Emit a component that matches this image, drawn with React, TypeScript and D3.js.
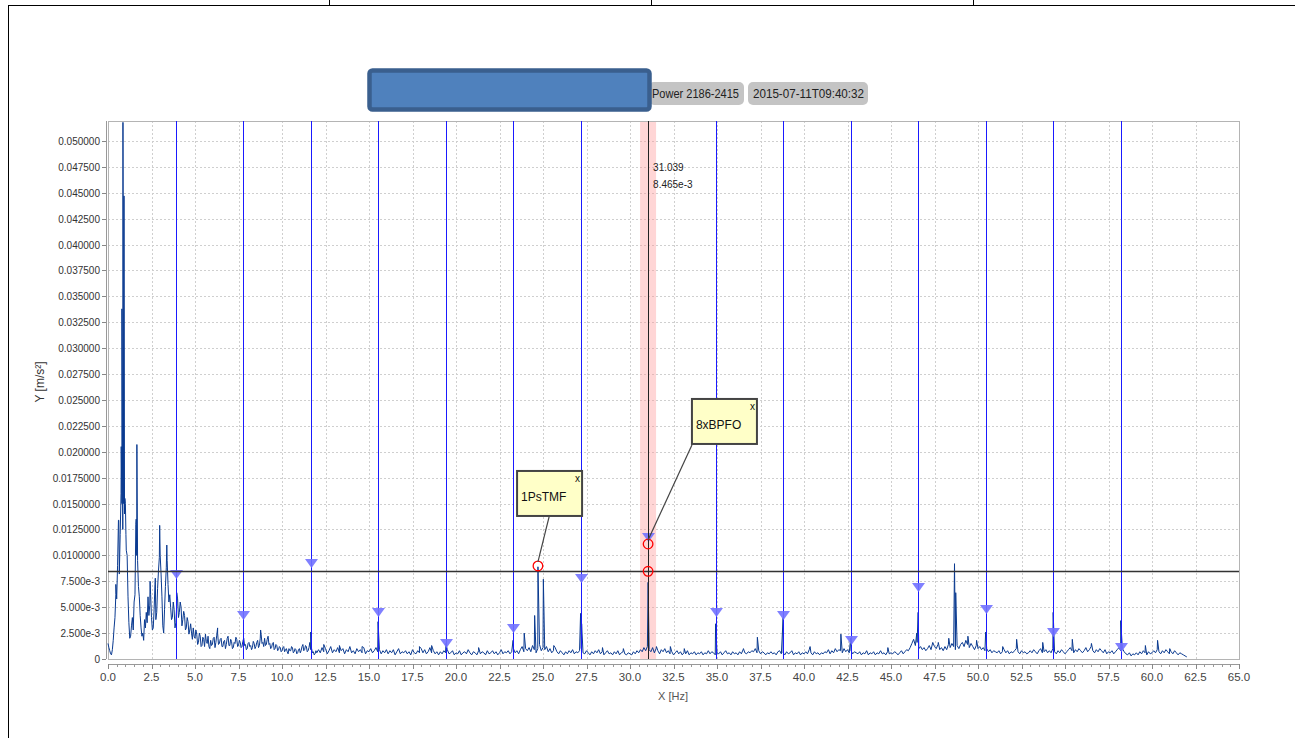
import * as d3 from 'd3'

const width = 1295
const height = 738

// plot frame in page pixels
const plotLeft = 108
const plotRight = 1239
const plotTop = 121
const plotBottom = 659

const xTickLabels = [
  '0.0', '2.5', '5.0', '7.5', '10.0', '12.5', '15.0', '17.5', '20.0', '22.5', '25.0', '27.5', '30.0',
  '32.5', '35.0', '37.5', '40.0', '42.5', '45.0', '47.5', '50.0', '52.5', '55.0', '57.5', '60.0', '62.5', '65.0',
]
const yTickLabels = [
  '0', '2.500e-3', '5.000e-3', '7.500e-3', '0.0100000', '0.0125000', '0.0150000', '0.0175000',
  '0.020000', '0.022500', '0.025000', '0.027500', '0.030000', '0.032500', '0.035000', '0.037500',
  '0.040000', '0.042500', '0.045000', '0.047500', '0.050000',
]

// spectrum 0..12 Hz, 0.05 Hz step
const lowStart = 0
const lowStep = 0.05
const lowBand = [
  0.0015, 0.0011, 0.0008, 0.0005, 0.0004, 0.0009, 0.0018, 0.0030, 0.0040, 0.0062,
  0.0058, 0.0090, 0.0134, 0.0082, 0.0120, 0.0160, 0.0150, 0.0125, 0.0150, 0.0140,
  0.0150, 0.0105, 0.0100, 0.0060, 0.0035, 0.0020, 0.0022, 0.0032, 0.0040, 0.0028,
  0.0055, 0.0062, 0.0130, 0.0100, 0.0095, 0.0070, 0.0060, 0.0042, 0.0030, 0.0022,
  0.0025, 0.0018, 0.0038, 0.0030, 0.0045, 0.0035, 0.0060, 0.0042, 0.0052, 0.0062,
  0.0040, 0.0028, 0.0030, 0.0048, 0.0072, 0.0038, 0.0045, 0.0068, 0.0085, 0.0098,
  0.0100, 0.0082, 0.0060, 0.0032, 0.0025, 0.0048, 0.0070, 0.0088, 0.0095, 0.0072,
  0.0055, 0.0062, 0.0050, 0.0038, 0.0040, 0.0055, 0.0048, 0.0030, 0.0035, 0.0052,
  0.0058, 0.0040, 0.0045, 0.0055, 0.0050, 0.0032, 0.0038, 0.0046, 0.0042, 0.0028,
  0.0030, 0.0040, 0.0036, 0.0024, 0.0028, 0.0034, 0.0025, 0.0019, 0.0030, 0.0022,
  0.0020, 0.0028, 0.0024, 0.0014, 0.0016, 0.0025, 0.0022, 0.0012, 0.0013, 0.0021,
  0.0019, 0.0012, 0.0024, 0.0017, 0.0015, 0.0022, 0.0012, 0.0010, 0.0018, 0.0013,
  0.0014, 0.0020, 0.0021, 0.0011, 0.0016, 0.0023, 0.0025, 0.0014, 0.0015, 0.0019,
  0.0020, 0.0012, 0.0012, 0.0017, 0.0018, 0.0010, 0.0014, 0.0020, 0.0022, 0.0013,
  0.0013, 0.0019, 0.0017, 0.0010, 0.0011, 0.0016, 0.0015, 0.0021, 0.0019, 0.0012,
  0.0013, 0.0018, 0.0016, 0.0011, 0.0012, 0.0017, 0.0020, 0.0013, 0.0014, 0.0009,
  0.0010, 0.0015, 0.0016, 0.0012, 0.0013, 0.0009, 0.0011, 0.0017, 0.0015, 0.0010,
  0.0012, 0.0016, 0.0018, 0.0011, 0.0013, 0.0020, 0.0024, 0.0015, 0.0016, 0.0012,
  0.0020, 0.0013, 0.0014, 0.0019, 0.0022, 0.0014, 0.0015, 0.0010, 0.0011, 0.0015,
  0.0016, 0.0009, 0.0010, 0.0014, 0.0013, 0.0008, 0.0009, 0.0012, 0.0011, 0.0007,
  0.0008, 0.0011, 0.0012, 0.0007, 0.0009, 0.0010, 0.0007, 0.0005, 0.0010, 0.0008,
  0.0008, 0.0012, 0.0011, 0.0006, 0.0007, 0.0010, 0.0009, 0.0005, 0.0006, 0.0009,
  0.0010, 0.0006, 0.0008, 0.0012, 0.0014, 0.0008, 0.0009, 0.0013, 0.0012, 0.0007,
  0.0008, 0.0011, 0.0016, 0.0009, 0.0010, 0.0006, 0.0007, 0.0004, 0.0005, 0.0008,
  0.0006,
]

// spectrum 12.1..62 Hz, 0.1 Hz step
const highStart = 12.1
const highStep = 0.1
const highBand = [
  0.0009, 0.0006, 0.0011, 0.0007, 0.0010, 0.0005, 0.0008, 0.0012, 0.0006, 0.0009,
  0.0007, 0.0011, 0.0006, 0.0008, 0.0010, 0.0005, 0.0009, 0.0007, 0.0012, 0.0006,
  0.0008, 0.0005, 0.0010, 0.0007, 0.0009, 0.0006, 0.0011, 0.0005, 0.0008, 0.0007,
  0.0010, 0.0006, 0.0008, 0.0011, 0.0007, 0.0009, 0.0005, 0.0008, 0.0006, 0.0009,
  0.0005, 0.0008, 0.0006, 0.0009, 0.0004, 0.0007, 0.0010, 0.0005, 0.0007, 0.0006,
  0.0008, 0.0005, 0.0007, 0.0004, 0.0009, 0.0006, 0.0005, 0.0008, 0.0006, 0.0010,
  0.0006, 0.0009, 0.0005, 0.0007, 0.0011, 0.0006, 0.0008, 0.0005, 0.0007, 0.0004,
  0.0007, 0.0005, 0.0008, 0.0006, 0.0009, 0.0005, 0.0006, 0.0008, 0.0004, 0.0006,
  0.0005, 0.0008, 0.0004, 0.0006, 0.0007, 0.0005, 0.0009, 0.0006, 0.0004, 0.0007,
  0.0006, 0.0004, 0.0008, 0.0005, 0.0007, 0.0006, 0.0004, 0.0008, 0.0005, 0.0006,
  0.0008, 0.0005, 0.0007, 0.0004, 0.0006, 0.0009, 0.0005, 0.0007, 0.0006, 0.0008,
  0.0005, 0.0007, 0.0010, 0.0006, 0.0008, 0.0005, 0.0009, 0.0012, 0.0007, 0.0010,
  0.0008, 0.0011, 0.0007, 0.0013, 0.0009, 0.0006, 0.0010, 0.0014, 0.0008, 0.0011,
  0.0009, 0.0012, 0.0007, 0.0010, 0.0006, 0.0008, 0.0011, 0.0007, 0.0005, 0.0008,
  0.0006, 0.0004, 0.0007, 0.0005, 0.0008, 0.0006, 0.0009, 0.0005, 0.0007, 0.0006,
  0.0008, 0.0010, 0.0006, 0.0005, 0.0008, 0.0006, 0.0004, 0.0007, 0.0005, 0.0008,
  0.0006, 0.0009, 0.0005, 0.0007, 0.0004, 0.0006, 0.0008, 0.0005, 0.0006, 0.0004,
  0.0007, 0.0005, 0.0008, 0.0004, 0.0006, 0.0007, 0.0005, 0.0004, 0.0006, 0.0005,
  0.0004, 0.0007, 0.0005, 0.0008, 0.0006, 0.0009, 0.0007, 0.0011, 0.0008, 0.0012,
  0.0009, 0.0007, 0.0011, 0.0006, 0.0010, 0.0008, 0.0005, 0.0009, 0.0007, 0.0010,
  0.0006, 0.0008, 0.0005, 0.0007, 0.0004, 0.0006, 0.0008, 0.0005, 0.0007, 0.0004,
  0.0006, 0.0005, 0.0008, 0.0004, 0.0006, 0.0005, 0.0007, 0.0004, 0.0006, 0.0005,
  0.0007, 0.0004, 0.0006, 0.0005, 0.0008, 0.0005, 0.0007, 0.0006, 0.0004, 0.0006,
  0.0005, 0.0007, 0.0004, 0.0006, 0.0008, 0.0005, 0.0006, 0.0004, 0.0007, 0.0005,
  0.0006, 0.0004, 0.0007, 0.0005, 0.0009, 0.0006, 0.0005, 0.0007, 0.0006, 0.0008,
  0.0007, 0.0010, 0.0006, 0.0008, 0.0005, 0.0007, 0.0006, 0.0004, 0.0006, 0.0005,
  0.0007, 0.0005, 0.0006, 0.0004, 0.0007, 0.0008, 0.0005, 0.0006, 0.0004, 0.0007,
  0.0005, 0.0006, 0.0008, 0.0004, 0.0006, 0.0005, 0.0007, 0.0004, 0.0006, 0.0005,
  0.0007, 0.0005, 0.0009, 0.0006, 0.0004, 0.0007, 0.0005, 0.0006, 0.0004, 0.0006,
  0.0005, 0.0007, 0.0006, 0.0009, 0.0005, 0.0008, 0.0006, 0.0010, 0.0007, 0.0009,
  0.0008, 0.0006, 0.0010, 0.0007, 0.0009, 0.0006, 0.0008, 0.0005, 0.0007, 0.0006,
  0.0005, 0.0007, 0.0004, 0.0006, 0.0005, 0.0008, 0.0004, 0.0006, 0.0005, 0.0007,
  0.0004, 0.0006, 0.0005, 0.0008, 0.0005, 0.0006, 0.0004, 0.0007, 0.0005, 0.0006,
  0.0005, 0.0007, 0.0006, 0.0004, 0.0006, 0.0008, 0.0005, 0.0007, 0.0009, 0.0008,
  0.0011, 0.0015, 0.0019, 0.0013, 0.0016, 0.0010, 0.0012, 0.0009, 0.0011, 0.0008,
  0.0010, 0.0013, 0.0009, 0.0016, 0.0012, 0.0010, 0.0014, 0.0009, 0.0011, 0.0008,
  0.0012, 0.0009, 0.0014, 0.0011, 0.0015, 0.0012, 0.0009, 0.0013, 0.0010, 0.0014,
  0.0016, 0.0012, 0.0018, 0.0014, 0.0011, 0.0015, 0.0012, 0.0009, 0.0013, 0.0010,
  0.0012, 0.0009, 0.0011, 0.0008, 0.0010, 0.0007, 0.0009, 0.0006, 0.0008, 0.0007,
  0.0006, 0.0008, 0.0005, 0.0007, 0.0009, 0.0006, 0.0008, 0.0005, 0.0007, 0.0006,
  0.0008, 0.0010, 0.0007, 0.0005, 0.0008, 0.0006, 0.0007, 0.0005, 0.0006, 0.0008,
  0.0006, 0.0009, 0.0007, 0.0005, 0.0008, 0.0010, 0.0006, 0.0007, 0.0009, 0.0006,
  0.0008, 0.0006, 0.0010, 0.0007, 0.0005, 0.0008, 0.0006, 0.0009, 0.0007, 0.0005,
  0.0007, 0.0009, 0.0011, 0.0008, 0.0006, 0.0009, 0.0007, 0.0010, 0.0008, 0.0006,
  0.0008, 0.0011, 0.0007, 0.0009, 0.0012, 0.0008, 0.0006, 0.0009, 0.0007, 0.0010,
  0.0008, 0.0006, 0.0009, 0.0005, 0.0007, 0.0006, 0.0008, 0.0005, 0.0007, 0.0009,
  0.0011, 0.0008, 0.0010, 0.0007, 0.0005, 0.0004, 0.0006, 0.0003, 0.0005, 0.0004,
  0.0006, 0.0004, 0.0007, 0.0005, 0.0008, 0.0006, 0.0004, 0.0007, 0.0005, 0.0006,
  0.0008, 0.0006, 0.0009, 0.0007, 0.0005, 0.0008, 0.0006, 0.0009, 0.0007, 0.0005,
  0.0007, 0.0005, 0.0008, 0.0006, 0.0004, 0.0006, 0.0005, 0.0004, 0.0003, 0.0002,
]

// narrow spectral lines [Hz, m/s²]
const peaks = [
  [0.45, 0.0072], [0.62, 0.0134], [0.76, 0.0205], [0.8, 0.0338], [0.86, 0.0518], [0.92, 0.0447],
  [0.97, 0.0155], [1.03, 0.012], [1.62, 0.0135], [1.66, 0.0207], [2.42, 0.0075], [2.72, 0.0078],
  [2.97, 0.0129], [3.38, 0.011], [3.95, 0.0064], [6.3, 0.003], [8.77, 0.0028], [11.65, 0.0026],
  [12.4, 0.0014], [13.3, 0.0013], [14.6, 0.0012], [15.52, 0.0036], [17.9, 0.0012], [18.6, 0.0013],
  [19.42, 0.0015], [21.3, 0.0011], [23.28, 0.0018], [23.92, 0.0025], [24.52, 0.0042], [24.71, 0.0089],
  [25.02, 0.0077], [25.62, 0.0013], [27.16, 0.0044], [27.22, 0.0034], [28.42, 0.0011], [29.62, 0.001],
  [31.04, 0.0074], [31.52, 0.0012], [32.32, 0.0012], [33.12, 0.001], [34.92, 0.0034], [36.52, 0.001],
  [37.32, 0.0021], [38.8, 0.004], [40.35, 0.0012], [42.12, 0.0024], [42.68, 0.002], [44.82, 0.0011],
  [46.48, 0.0025], [46.56, 0.0045], [47.72, 0.0016], [48.32, 0.002], [48.65, 0.0092], [48.72, 0.0064],
  [49.42, 0.0022], [49.92, 0.0018], [50.44, 0.0026], [51.42, 0.0012], [52.22, 0.0019], [53.72, 0.0016],
  [54.32, 0.0045], [55.42, 0.0019], [56.52, 0.0015], [58.2, 0.0037], [59.62, 0.0013], [60.32, 0.0018],
  [61.02, 0.001],
]

// BPFO harmonic cursors 1x..15x and their marker levels
const harmonicHz = [3.88, 7.76, 11.64, 15.52, 19.4, 23.28, 27.16, 31.04, 34.92, 38.8, 42.68, 46.56, 50.44, 54.32, 58.2]
const harmonicLevel = [
  0.00772, 0.00376, 0.00878, 0.00405, 0.00106, 0.00251, 0.00734, 0.01129, 0.00405, 0.00376, 0.00135,
  0.00647, 0.00434, 0.00212, 0.00068,
]

const cursorHz = 31.039
const cursorLevel = 8.465e-3
const cursorBandHz = 0.46

const hitPoints = [
  [24.71, 0.00898],
  [31.04, 0.0111],
  [31.039, 8.465e-3],
]

const notes = [
  { label: '1PsTMF', hz: 24.71, level: 0.00898, boxHz: 23.51, boxLevel: 0.01815, attach: 32 },
  { label: '8xBPFO', hz: 31.04, level: 0.0111, boxHz: 33.56, boxLevel: 0.0251, attach: 0 },
]

const x = d3.scaleLinear().domain([0, 65]).range([plotLeft, plotRight])
const y = d3.scaleLinear().domain([0, 0.05193]).range([plotBottom, plotTop])
const crisp = (v: number) => Math.round(v) + 0.5

const spectrum = [
  ...lowBand.map((v, i) => [lowStart + i * lowStep, v]),
  ...highBand.map((v, i) => [highStart + i * highStep, v]),
  ...peaks,
].sort((a, b) => a[0] - b[0])

const spectrumLine = d3
  .line<number[]>()
  .x((d) => x(d[0]))
  .y((d) => y(d[1]))

const font = 'Liberation Sans, Arial, sans-serif'

export default function App() {
  const xTicks = xTickLabels.map(Number)
  const yTicks = yTickLabels.map(Number)
  const minorTicks = d3.range(0, 65.001, 0.5)
  const boxW = 65
  const boxH = 45

  return (
    <svg
      width={width}
      height={height}
      style={{ position: 'absolute', left: 0, top: 0, background: '#fff' }}
    >
      {/* page frame */}
      <line x1={8} y1={5.5} x2={width} y2={5.5} stroke="#000" />
      <line x1={8.5} y1={5} x2={8.5} y2={height} stroke="#000" />
      {[329, 651, 973].map((px) => (
        <line key={px} x1={px + 0.5} y1={0} x2={px + 0.5} y2={5} stroke="#000" />
      ))}

      {/* header */}
      <rect x={649} y={82} width={95} height={23} rx={5} fill="#c4c4c4" />
      <text x={652} y={98} fontFamily={font} fontSize={13} fill="#222" textLength={87} lengthAdjust="spacingAndGlyphs">
        Power 2186-2415
      </text>
      <rect x={748} y={82} width={120} height={23} rx={5} fill="#c4c4c4" />
      <text x={753} y={98} fontFamily={font} fontSize={13} fill="#222" textLength={111} lengthAdjust="spacingAndGlyphs">
        2015-07-11T09:40:32
      </text>
      <rect x={369.5} y={70.5} width={280} height={39} rx={3} fill="#4f81bd" stroke="#3a5f8e" strokeWidth={4.5} />

      {/* grid */}
      <g stroke="#cfcfcf" strokeDasharray="2,2">
        {xTicks.slice(1, -1).map((t) => (
          <line key={t} x1={crisp(x(t))} x2={crisp(x(t))} y1={plotTop} y2={plotBottom} />
        ))}
        {yTicks.slice(1).map((t) => (
          <line key={t} x1={plotLeft} x2={plotRight} y1={crisp(y(t))} y2={crisp(y(t))} />
        ))}
      </g>

      {/* cursor band */}
      <rect
        x={x(cursorHz - cursorBandHz)}
        y={plotTop}
        width={x(cursorHz + cursorBandHz) - x(cursorHz - cursorBandHz)}
        height={plotBottom - plotTop}
        fill="#ff9999"
        opacity={0.4}
      />

      <rect
        x={plotLeft + 0.5}
        y={plotTop + 0.5}
        width={plotRight - plotLeft}
        height={plotBottom - plotTop}
        fill="none"
        stroke="#b4b4b4"
      />

      {/* spectrum */}
      <path d={spectrumLine(spectrum) ?? ''} fill="none" stroke="#0a3a90" strokeWidth={1} strokeLinejoin="round" />

      {/* harmonic cursors */}
      {harmonicHz.map((hz, i) => {
        const cx = crisp(x(hz))
        const ty = y(harmonicLevel[i])
        return (
          <g key={hz}>
            <line x1={cx} x2={cx} y1={plotTop} y2={plotBottom} stroke="#1a1aff" strokeWidth={1} />
            <path d={`M${cx - 6.5},${ty - 9} L${cx + 6.5},${ty - 9} L${cx},${ty} Z`} fill="#7272ff" opacity={0.9} />
          </g>
        )
      })}

      {/* threshold and main cursor */}
      <line x1={plotLeft} x2={plotRight} y1={crisp(y(cursorLevel))} y2={crisp(y(cursorLevel))} stroke="#333" strokeWidth={1.3} />
      <line x1={crisp(x(cursorHz))} x2={crisp(x(cursorHz))} y1={plotTop} y2={plotBottom} stroke="#222" strokeWidth={1} />
      <text x={x(cursorHz) + 5} y={171} fontFamily={font} fontSize={10} fill="#222">
        {cursorHz.toFixed(3)}
      </text>
      <text x={x(cursorHz) + 5} y={188} fontFamily={font} fontSize={10} fill="#222">
        8.465e-3
      </text>

      {hitPoints.map(([hz, v]) => (
        <circle key={`${hz}-${v}`} cx={x(hz)} cy={y(v)} r={4.8} fill="none" stroke="#ff0000" strokeWidth={1.3} />
      ))}

      {/* annotations */}
      {notes.map((n) => {
        const bx = x(n.boxHz)
        const by = y(n.boxLevel)
        return (
          <g key={n.label}>
            <line x1={bx + n.attach} y1={by + boxH + 1} x2={x(n.hz)} y2={y(n.level) - 4} stroke="#444" strokeWidth={1.2} />
            <rect x={bx} y={by} width={boxW} height={boxH} fill="#ffffc8" stroke="#444" strokeWidth={2} />
            <text x={bx + 4} y={by + 30} fontFamily={font} fontSize={12} fill="#111">
              {n.label}
            </text>
            <text x={bx + boxW - 7} y={by + 11} fontFamily={font} fontSize={10} fill="#111">
              x
            </text>
          </g>
        )
      })}

      {/* y axis */}
      <line x1={106.5} x2={106.5} y1={plotTop} y2={plotBottom} stroke="#999" />
      {yTicks.map((t, i) => (
        <g key={t} transform={`translate(0,${crisp(y(t))})`}>
          <line x1={102} x2={106} stroke="#888" />
          <text x={100} dy="0.35em" textAnchor="end" fontFamily={font} fontSize={10} fill="#333">
            {yTickLabels[i]}
          </text>
        </g>
      ))}
      <text
        transform={`translate(44,382) rotate(-90)`}
        textAnchor="middle"
        fontFamily={font}
        fontSize={12}
        fill="#333"
      >
        Y  [m/s²]
      </text>

      {/* x axis */}
      <line x1={plotLeft} x2={plotRight} y1={664.5} y2={664.5} stroke="#999" />
      {minorTicks.map((t) => (
        <line key={t} x1={crisp(x(t))} x2={crisp(x(t))} y1={664} y2={667} stroke="#999" />
      ))}
      {xTicks.map((t, i) => (
        <g key={t}>
          <line x1={crisp(x(t))} x2={crisp(x(t))} y1={664} y2={669} stroke="#888" />
          <text x={x(t)} y={681} textAnchor="middle" fontFamily={font} fontSize={11.5} fill="#444">
            {xTickLabels[i]}
          </text>
        </g>
      ))}
      <text x={673} y={700} textAnchor="middle" fontFamily={font} fontSize={11} fill="#555">
        X [Hz]
      </text>
    </svg>
  )
}
